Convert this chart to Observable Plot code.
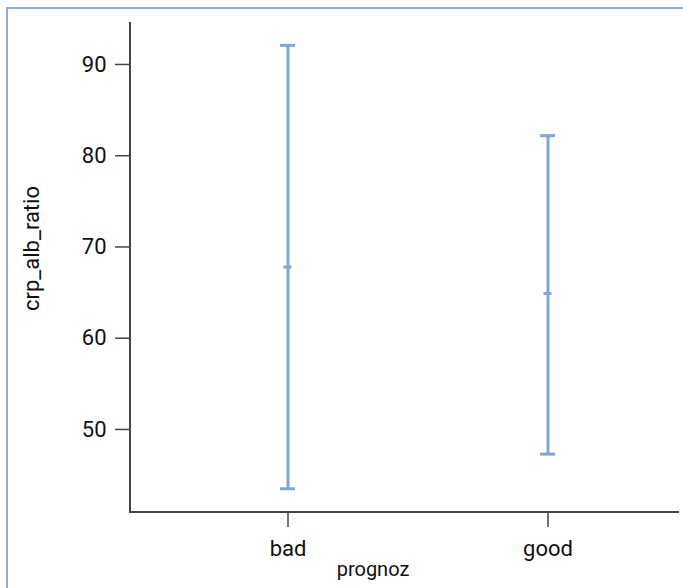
<!DOCTYPE html>
<html>
<head>
<meta charset="utf-8">
<script src="https://cdn.jsdelivr.net/npm/d3@7"></script>
<script src="https://cdn.jsdelivr.net/npm/@observablehq/plot@0.6"></script>
<style>
  html, body { margin: 0; padding: 0; background: #fff; overflow: hidden; }
  #wrap { position: relative; width: 683px; height: 588px; }
  #border { position: absolute; left: 6px; top: 7px; width: 720px; height: 620px; border: 2px solid #8db1df; box-sizing: border-box; }
  #chart { position: absolute; left: 0; top: 0; }
</style>
</head>
<body>
<div id="wrap"><div id="border"></div><div id="chart"></div></div>
<script>
const categories = ["bad", "good"];
const meanValues = [67.8, 64.9];
const lowerValues = [43.5, 47.3];
const upperValues = [92.1, 82.2];
const yTicks = [50, 60, 70, 80, 90];
const xLabel = "prognoz";
const yLabel = "crp_alb_ratio";

const data = categories.map((c, i) => ({prognoz: c, mean: meanValues[i], lo: lowerValues[i], hi: upperValues[i]}));
const barColor = "#7fa6d8";
const axisColor = "#444";

const axisLines = (index, scales, values, dims) => {
  const g = d3.create("svg:g");
  const l = dims.marginLeft, t = dims.marginTop, r = dims.width - dims.marginRight, b = dims.height - dims.marginBottom;
  g.append("path").attr("d", `M${l},${t}V${b}H${r}`).attr("fill", "none").attr("stroke", axisColor).attr("stroke-width", 2);
  return g.node();
};

const chart = Plot.plot({
  width: 683,
  height: 588,
  marginLeft: 130,
  marginRight: 4,
  marginTop: 22,
  marginBottom: 76,
  style: {fontFamily: "Roboto", fontSize: "19px", color: "#111", background: "transparent"},
  x: {type: "band", domain: categories, paddingInner: 0.9425, paddingOuter: 0.523, align: 0.5476, label: null},
  y: {domain: [40.9, 94.6], label: null},
  marks: [
    Plot.ruleX(data, {x: "prognoz", y1: "lo", y2: "hi", stroke: barColor, strokeWidth: 3}),
    Plot.tickY(data, {x: "prognoz", y: "hi", stroke: barColor, strokeWidth: 3}),
    Plot.tickY(data, {x: "prognoz", y: "lo", stroke: barColor, strokeWidth: 3}),
    Plot.tickY(data, {x: "prognoz", y: "mean", stroke: barColor, strokeWidth: 3, insetLeft: 3.5, insetRight: 3.5}),
    axisLines,
    Plot.axisY({ticks: yTicks, tickSize: 15, tickPadding: 9, stroke: axisColor, strokeWidth: 1.5, label: null, fontSize: 22, fill: "#111"}),
    Plot.axisX({tickSize: 15, tickPadding: 13, stroke: axisColor, strokeWidth: 1.5, label: null, fontSize: 22, fill: "#111"}),
    Plot.text([xLabel], {text: d => d, frameAnchor: "bottom", textAnchor: "middle", dx: -32, dy: 63, fontSize: 20, fill: "#111"}),
    Plot.text([yLabel], {text: d => d, frameAnchor: "left", textAnchor: "middle", dx: -99, dy: -19, rotate: -90, fontSize: 22, fill: "#111"})
  ]
});
document.getElementById("chart").appendChild(chart);
</script>
</body>
</html>
